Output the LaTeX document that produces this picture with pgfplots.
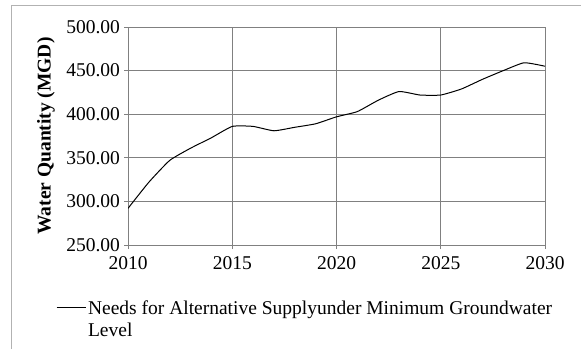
\documentclass[border=0pt]{standalone}
\usepackage{pgfplots}
\pgfplotsset{compat=1.18}
\usepackage{fontspec}
\setmainfont{Liberation Serif}
\begin{document}
\begin{tikzpicture}[x=1pt,y=1pt]
\useasboundingbox (0,0) rectangle (581,349);
\draw[gray!60, line width=1pt] (11,0) -- (11,343) -- (581,343);
\begin{axis}[
    at={(128pt,104pt)}, anchor=south west,
    scale only axis,
    width=417pt, height=218pt,
    xmin=2010, xmax=2030, ymin=250, ymax=500,
    xtick={2010,2015,...,2030}, ytick={250,300,...,500},
    axis x line*=bottom, axis y line*=left,
    axis line style={gray, line width=0.9pt},
    grid=major,
    major grid style={gray, line width=0.9pt},
    tick align=outside, major tick length=4pt,
    tick style={gray, line width=0.9pt},
    ticklabel style={font=\fontsize{19.5}{21}\selectfont},
    /pgf/number format/assume math mode=true,
    x tick label style={yshift=-3.5pt, /pgf/number format/1000 sep={}},
    y tick label style={xshift=-0.5pt, /pgf/number format/.cd, fixed, fixed zerofill, precision=2, 1000 sep={}},
    ylabel={\textbf{Water Quantity (MGD)}},
    ylabel style={at={(axis description cs:-0.197,0.5)}, anchor=center, font=\fontsize{19.5}{21}\selectfont},
    legend style={at={(axis description cs:-0.173,-0.246)}, anchor=north west, draw=none, fill=none,
        font=\fontsize{19.5}{21.5}\selectfont, inner sep=0pt, cells={anchor=base west}},
    legend image code/.code={\draw[#1] (0pt,7pt) -- (29pt,7pt); \path (0pt,0pt);},
]
\addplot[black, line width=1pt, smooth, tension=0.3] coordinates {
    (2010, 292) (2011, 322) (2012, 347) (2013, 361) (2014, 373)
    (2015, 386) (2016, 386) (2017, 381) (2018, 385) (2019, 389)
    (2020, 397) (2021, 403) (2022, 416) (2023, 426) (2024, 422)
    (2025, 422) (2026, 429) (2027, 440) (2028, 450) (2029, 459)
    (2030, 455)
};
\addlegendentry{\parbox[t]{480pt}{Needs for Alternative Supplyunder Minimum Groundwater\\Level}}
\end{axis}
\end{tikzpicture}
\end{document}
